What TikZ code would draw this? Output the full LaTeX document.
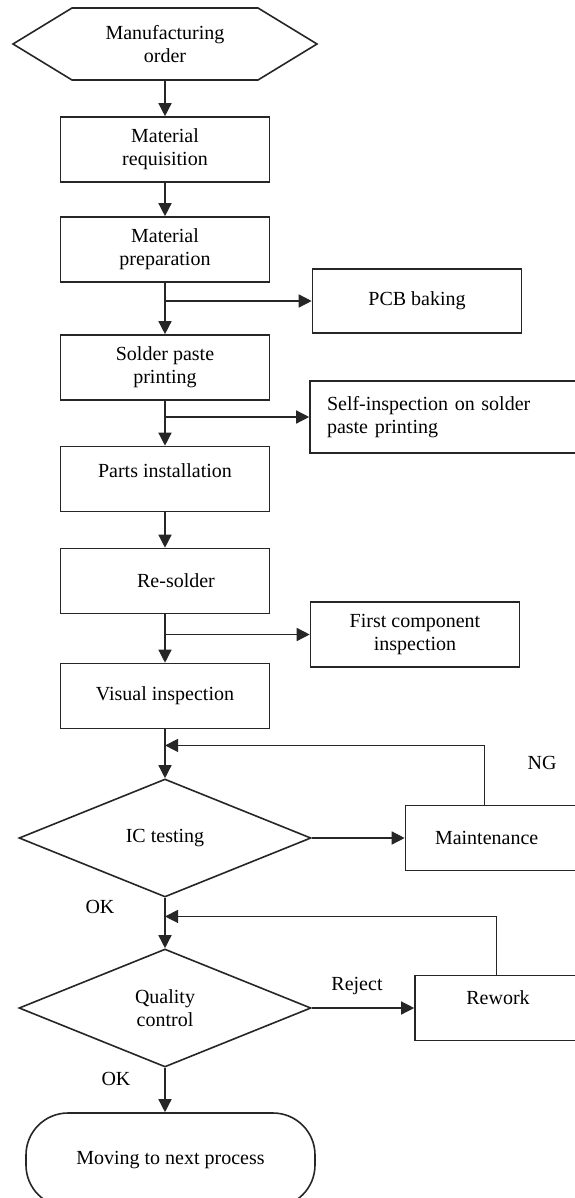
\documentclass[tikz,border=0pt]{standalone}
\usepackage{fontspec}
\setmainfont{Liberation Serif}
\usetikzlibrary{arrows.meta,shapes.geometric,calc}

\begin{document}
\begin{tikzpicture}[x=0.5pt,y=-0.5pt,
    font=\fontsize{10}{11.5}\selectfont,
    line/.style={line width=0.7pt,black!85},
    arrow/.style={line,-{Triangle[length=6.5pt,width=6.5pt]}},
    box/.style={draw,black!85,text=black,line width=0.8pt,minimum width=104.5pt,minimum height=32.5pt,align=center,inner sep=2pt},
    decision/.style={draw,diamond,black!85,text=black,line width=0.8pt,minimum width=146pt,minimum height=59pt,inner sep=0pt,align=center},
    terminal/.style={draw,rectangle,black!85,text=black,rounded corners=21pt,line width=0.8pt,minimum width=144.5pt,minimum height=47pt}]
        \useasboundingbox (0,0) rectangle (574,1198);

        % Start
        \draw[line,line width=0.8pt] (13,44) -- (72,8) -- (258,8) -- (317,44) -- (258,80) -- (72,80) -- cycle;
        \node[minimum width=152pt,minimum height=36pt,inner sep=0pt,outer sep=0pt,align=center] (order) at (165,44) {Manufacturing\\order};

        % Process steps
        \node[box] (req) at (165,149.5) {Material\\requisition};
        \node[box] (prep) at (165,249.5) {Material\\preparation};
        \node[box] (paste) at (165,367.5) {Solder paste\\printing};
        \node[box,text depth=8pt] (parts) at (165,479) {Parts installation};
        \node[box] (resolder) at (165,581) {\hspace*{11pt}Re-solder};
        \node[box] (visual) at (165,696) {Visual inspection};

        % Side checks
        \node[box,minimum height=32pt] (pcb) at (417,301) {PCB baking};
        \node[box,text width=122.5pt,align=left,inner xsep=8.5pt,minimum height=36pt] (selfinsp) at (449.5,417) {Self-inspection on solder\\paste printing};
        \node[box] (first) at (415,634.5) {First component\\inspection};

        % Tests
        \node[decision] (ic) at (165,838) {IC testing};
        \node[decision] (qc) at (165,1008) {Quality\\control};
        \node[box,text width=75pt,align=left,inner xsep=11pt] (maint) at (510,838) {Maintenance};
        \node[box,minimum width=83pt,text depth=10pt] (rework) at (498,1008) {Rework};

        % End
        \node[terminal] (next) at (170.5,1160) {Moving to next process};

        % Main line
        \draw[arrow] (order.south) -- (req.north);
        \draw[arrow] (req) -- (prep);
        \draw[arrow] (prep) -- (paste);
        \draw[arrow] (paste) -- (parts);
        \draw[arrow] (parts) -- (resolder);
        \draw[arrow] (resolder) -- (visual);
        \draw[arrow] (visual) -- (ic);
        \draw[arrow] (ic) -- (qc);
        \draw[arrow] (qc.south) -- (qc.south |- next.north);

        % Branches
        \draw[arrow] (prep.south |- pcb.west) -- (pcb.west);
        \draw[arrow] (paste.south |- selfinsp.west) -- (selfinsp.west);
        \draw[arrow] (resolder.south |- first.west) -- (first.west);
        \draw[arrow] (ic.east) -- (maint.west);
        \draw[arrow] (qc.east) -- node[above=3pt,xshift=-3pt,text=black] (reject) {Reject} (rework.west);

        % Loops back
        \coordinate (ngin) at ($(visual.south)!0.33!(ic.north)$);
        \coordinate (rejin) at ($(ic.south)!0.37!(qc.north)$);
        \draw[arrow] ([xshift=40pt]maint.north west) |- (ngin);
        \draw[arrow] ([xshift=41pt]rework.north west) |- (rejin);

        % Labels
        \node (ng) at (542,763) {NG};
        \node (ok1) at (100,907) {OK};
        \node (ok2) at (116,1079) {OK};
    \end{tikzpicture}
\end{document}
